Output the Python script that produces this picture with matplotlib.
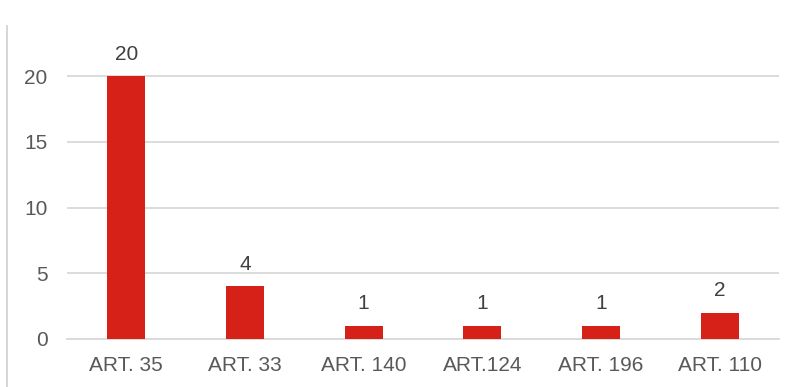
import matplotlib
matplotlib.use("Agg")
import matplotlib.pyplot as plt
from matplotlib.lines import Line2D

categories = ["ART. 35", "ART. 33", "ART. 140", "ART.124", "ART. 196", "ART. 110"]
values = [20, 4, 1, 1, 1, 2]
yticks = [0, 5, 10, 15, 20]

plt.rcParams["font.family"] = ["Liberation Sans", "DejaVu Sans"]

W, H = 797, 387
fig = plt.figure(figsize=(W / 100, H / 100), dpi=100)
ax = fig.add_axes([67 / W, 48 / H, (779 - 67) / W, (339 - 50) / H])

bar_color = "#D62118"
grid_color = "#D9D9D9"
text_color = "#595959"

x = list(range(len(categories)))
bars = ax.bar(x, values, width=0.32, color=bar_color, zorder=3)
for xi, v in zip(x, values):
    ax.annotate(str(v), (xi, v), xytext=(0, 9), textcoords="offset points",
                ha="center", va="bottom", fontsize=15, color="#404040")

ax.set_xlim(-0.5, len(categories) - 0.5)
ax.set_ylim(0, 22)
ax.set_yticks(yticks)
ax.set_xticks(x)
ax.set_xticklabels(categories)
ax.yaxis.grid(True, color=grid_color, linewidth=1.3, zorder=0)
ax.tick_params(axis="both", length=0, labelsize=15, colors=text_color)
ax.tick_params(axis="x", pad=12)
ax.tick_params(axis="y", pad=14)
for s in ["top", "right", "left"]:
    ax.spines[s].set_visible(False)
ax.spines["bottom"].set_color(grid_color)
ax.spines["bottom"].set_linewidth(1.3)

# chart frame edge on the left
fig.add_artist(Line2D([6.5 / W, 6.5 / W], [0, 1 - 26 / H], transform=fig.transFigure,
                      color="#D0D0D0", linewidth=1.2))

fig.savefig("out.png", dpi=100, facecolor="white")
